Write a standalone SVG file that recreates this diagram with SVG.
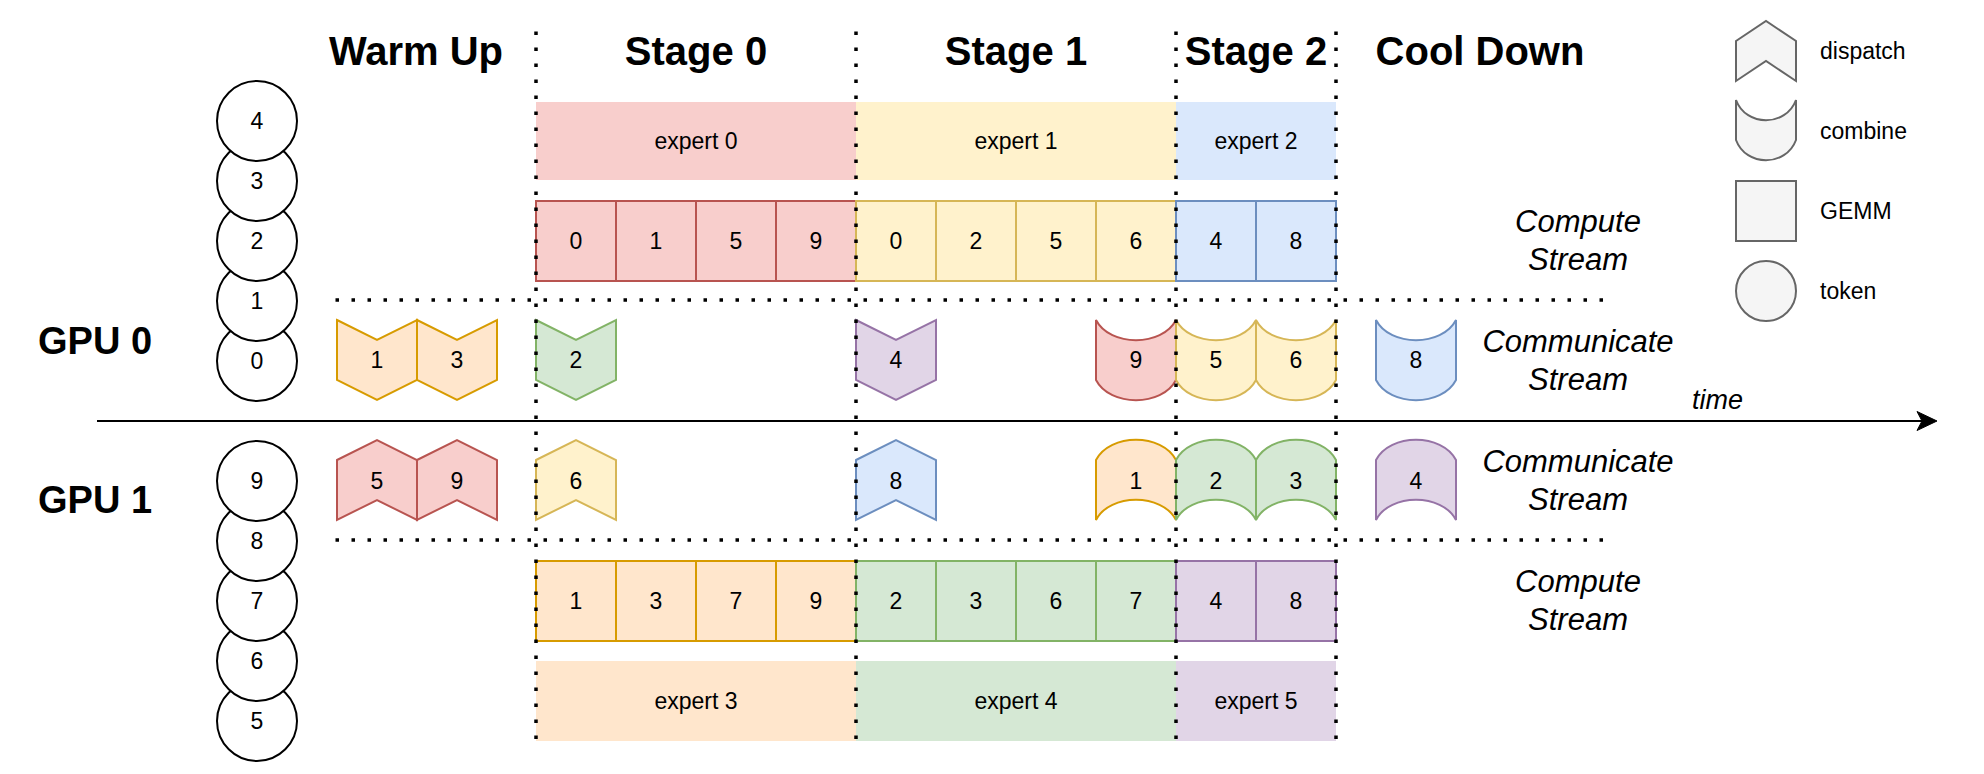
<svg xmlns="http://www.w3.org/2000/svg" width="1984" height="774" viewBox="0 0 1984 774">
<style>
  text { font-family: "Liberation Sans", Arial, Helvetica, sans-serif; fill: #000; }
  .head { font-size: 40px; font-weight: bold; text-anchor: middle; }
  .gpu { font-size: 38px; font-weight: bold; }
  .num { font-size: 23px; text-anchor: middle; }
  .exp { font-size: 23px; text-anchor: middle; }
  .leg { font-size: 23px; }
  .it { font-size: 31px; font-style: italic; text-anchor: middle; }
  .tok { fill: #fff; stroke: #000; stroke-width: 2; }
  .red { fill: #f8cecc; stroke: #b85450; stroke-width: 2; }
  .yel { fill: #fff2cc; stroke: #d6b656; stroke-width: 2; }
  .blu { fill: #dae8fc; stroke: #6c8ebf; stroke-width: 2; }
  .ora { fill: #ffe6cc; stroke: #d79b00; stroke-width: 2; }
  .grn { fill: #d5e8d4; stroke: #82b366; stroke-width: 2; }
  .pur { fill: #e1d5e7; stroke: #9673a6; stroke-width: 2; }
  .gry { fill: #f5f5f5; stroke: #666666; stroke-width: 2; }
  .dot { stroke: #000; stroke-width: 3.5; stroke-dasharray: 3.5 12.5; fill: none; }
</style>
<defs>
  <polygon id="dispDown" points="0,0 40,20 80,0 80,60 40,80 0,60"/>
  <polygon id="dispUp" points="0,20 40,0 80,20 80,80 40,60 0,80"/>
  <path id="combDown" d="M0,0 C14,27 66,27 80,0 L80,60 C66,87 14,87 0,60 Z"/>
  <path id="combUp" d="M0,20 C14,-7 66,-7 80,20 L80,80 C66,53 14,53 0,80 Z"/>
</defs>
<rect width="1984" height="774" fill="#fff"/>

<g id="headings">
  <text class="head" x="416" y="65">Warm Up</text>
  <text class="head" x="696" y="65">Stage 0</text>
  <text class="head" x="1016" y="65">Stage 1</text>
  <text class="head" x="1256" y="65">Stage 2</text>
  <text class="head" x="1480" y="65">Cool Down</text>
</g>

<g id="gpu-labels">
  <text class="gpu" x="38" y="354">GPU 0</text>
  <text class="gpu" x="38" y="513">GPU 1</text>
</g>

<g id="tokens-gpu0">
  <g id="tok0-0"><circle class="tok" cx="257" cy="361" r="40"/><text class="num" x="257" y="369">0</text></g>
  <g id="tok0-1"><circle class="tok" cx="257" cy="301" r="40"/><text class="num" x="257" y="309">1</text></g>
  <g id="tok0-2"><circle class="tok" cx="257" cy="241" r="40"/><text class="num" x="257" y="249">2</text></g>
  <g id="tok0-3"><circle class="tok" cx="257" cy="181" r="40"/><text class="num" x="257" y="189">3</text></g>
  <g id="tok0-4"><circle class="tok" cx="257" cy="121" r="40"/><text class="num" x="257" y="129">4</text></g>
</g>
<g id="tokens-gpu1">
  <g id="tok1-5"><circle class="tok" cx="257" cy="721" r="40"/><text class="num" x="257" y="729">5</text></g>
  <g id="tok1-6"><circle class="tok" cx="257" cy="661" r="40"/><text class="num" x="257" y="669">6</text></g>
  <g id="tok1-7"><circle class="tok" cx="257" cy="601" r="40"/><text class="num" x="257" y="609">7</text></g>
  <g id="tok1-8"><circle class="tok" cx="257" cy="541" r="40"/><text class="num" x="257" y="549">8</text></g>
  <g id="tok1-9"><circle class="tok" cx="257" cy="481" r="40"/><text class="num" x="257" y="489">9</text></g>
</g>

<g id="experts-gpu0">
  <g id="expert0"><rect x="536" y="102" width="320" height="78" fill="#f8cecc"/><text class="exp" x="696" y="149">expert 0</text></g>
  <g id="expert1"><rect x="856" y="102" width="320" height="78" fill="#fff2cc"/><text class="exp" x="1016" y="149">expert 1</text></g>
  <g id="expert2"><rect x="1176" y="102" width="160" height="78" fill="#dae8fc"/><text class="exp" x="1256" y="149">expert 2</text></g>
</g>

<g id="gemm-gpu0">
  <g id="g0-s0-0"><rect class="red" x="536" y="201" width="80" height="80"/><text class="num" x="576" y="249">0</text></g>
  <g id="g0-s0-1"><rect class="red" x="616" y="201" width="80" height="80"/><text class="num" x="656" y="249">1</text></g>
  <g id="g0-s0-5"><rect class="red" x="696" y="201" width="80" height="80"/><text class="num" x="736" y="249">5</text></g>
  <g id="g0-s0-9"><rect class="red" x="776" y="201" width="80" height="80"/><text class="num" x="816" y="249">9</text></g>
  <g id="g0-s1-0"><rect class="yel" x="856" y="201" width="80" height="80"/><text class="num" x="896" y="249">0</text></g>
  <g id="g0-s1-2"><rect class="yel" x="936" y="201" width="80" height="80"/><text class="num" x="976" y="249">2</text></g>
  <g id="g0-s1-5"><rect class="yel" x="1016" y="201" width="80" height="80"/><text class="num" x="1056" y="249">5</text></g>
  <g id="g0-s1-6"><rect class="yel" x="1096" y="201" width="80" height="80"/><text class="num" x="1136" y="249">6</text></g>
  <g id="g0-s2-4"><rect class="blu" x="1176" y="201" width="80" height="80"/><text class="num" x="1216" y="249">4</text></g>
  <g id="g0-s2-8"><rect class="blu" x="1256" y="201" width="80" height="80"/><text class="num" x="1296" y="249">8</text></g>
</g>

<g id="comm-gpu0">
  <g id="c0-d1"><use href="#dispDown" class="ora" x="337" y="320"/><text class="num" x="377" y="368">1</text></g>
  <g id="c0-d3"><use href="#dispDown" class="ora" x="417" y="320"/><text class="num" x="457" y="368">3</text></g>
  <g id="c0-d2"><use href="#dispDown" class="grn" x="536" y="320"/><text class="num" x="576" y="368">2</text></g>
  <g id="c0-d4"><use href="#dispDown" class="pur" x="856" y="320"/><text class="num" x="896" y="368">4</text></g>
  <g id="c0-c9"><use href="#combDown" class="red" x="1096" y="320"/><text class="num" x="1136" y="368">9</text></g>
  <g id="c0-c5"><use href="#combDown" class="yel" x="1176" y="320"/><text class="num" x="1216" y="368">5</text></g>
  <g id="c0-c6"><use href="#combDown" class="yel" x="1256" y="320"/><text class="num" x="1296" y="368">6</text></g>
  <g id="c0-c8"><use href="#combDown" class="blu" x="1376" y="320"/><text class="num" x="1416" y="368">8</text></g>
</g>

<g id="comm-gpu1">
  <g id="c1-d5"><use href="#dispUp" class="red" x="337" y="440"/><text class="num" x="377" y="489">5</text></g>
  <g id="c1-d9"><use href="#dispUp" class="red" x="417" y="440"/><text class="num" x="457" y="489">9</text></g>
  <g id="c1-d6"><use href="#dispUp" class="yel" x="536" y="440"/><text class="num" x="576" y="489">6</text></g>
  <g id="c1-d8"><use href="#dispUp" class="blu" x="856" y="440"/><text class="num" x="896" y="489">8</text></g>
  <g id="c1-c1"><use href="#combUp" class="ora" x="1096" y="440"/><text class="num" x="1136" y="489">1</text></g>
  <g id="c1-c2"><use href="#combUp" class="grn" x="1176" y="440"/><text class="num" x="1216" y="489">2</text></g>
  <g id="c1-c3"><use href="#combUp" class="grn" x="1256" y="440"/><text class="num" x="1296" y="489">3</text></g>
  <g id="c1-c4"><use href="#combUp" class="pur" x="1376" y="440"/><text class="num" x="1416" y="489">4</text></g>
</g>

<g id="gemm-gpu1">
  <g id="g1-s0-1"><rect class="ora" x="536" y="561" width="80" height="80"/><text class="num" x="576" y="609">1</text></g>
  <g id="g1-s0-3"><rect class="ora" x="616" y="561" width="80" height="80"/><text class="num" x="656" y="609">3</text></g>
  <g id="g1-s0-7"><rect class="ora" x="696" y="561" width="80" height="80"/><text class="num" x="736" y="609">7</text></g>
  <g id="g1-s0-9"><rect class="ora" x="776" y="561" width="80" height="80"/><text class="num" x="816" y="609">9</text></g>
  <g id="g1-s1-2"><rect class="grn" x="856" y="561" width="80" height="80"/><text class="num" x="896" y="609">2</text></g>
  <g id="g1-s1-3"><rect class="grn" x="936" y="561" width="80" height="80"/><text class="num" x="976" y="609">3</text></g>
  <g id="g1-s1-6"><rect class="grn" x="1016" y="561" width="80" height="80"/><text class="num" x="1056" y="609">6</text></g>
  <g id="g1-s1-7"><rect class="grn" x="1096" y="561" width="80" height="80"/><text class="num" x="1136" y="609">7</text></g>
  <g id="g1-s2-4"><rect class="pur" x="1176" y="561" width="80" height="80"/><text class="num" x="1216" y="609">4</text></g>
  <g id="g1-s2-8"><rect class="pur" x="1256" y="561" width="80" height="80"/><text class="num" x="1296" y="609">8</text></g>
</g>

<g id="experts-gpu1">
  <g id="expert3"><rect x="536" y="661" width="320" height="80" fill="#ffe6cc"/><text class="exp" x="696" y="709">expert 3</text></g>
  <g id="expert4"><rect x="856" y="661" width="320" height="80" fill="#d5e8d4"/><text class="exp" x="1016" y="709">expert 4</text></g>
  <g id="expert5"><rect x="1176" y="661" width="160" height="80" fill="#e1d5e7"/><text class="exp" x="1256" y="709">expert 5</text></g>
</g>

<g id="stream-labels">
  <text class="it" x="1578" y="232">Compute</text>
  <text class="it" x="1578" y="270">Stream</text>
  <text class="it" x="1578" y="352">Communicate</text>
  <text class="it" x="1578" y="390">Stream</text>
  <text class="it" x="1578" y="472">Communicate</text>
  <text class="it" x="1578" y="510">Stream</text>
  <text class="it" x="1578" y="592">Compute</text>
  <text class="it" x="1578" y="630">Stream</text>
  <text x="1692" y="409" style="font-size:27px;font-style:italic">time</text>
</g>

<g id="legend">
  <g id="leg-dispatch"><polygon class="gry" points="1736,41 1766,21 1796,41 1796,81 1766,61 1736,81"/><text class="leg" x="1820" y="59">dispatch</text></g>
  <g id="leg-combine"><path class="gry" d="M1736,100 C1746,127 1786,127 1796,100 L1796,140 C1786,167 1746,167 1736,140 Z"/><text class="leg" x="1820" y="139">combine</text></g>
  <g id="leg-gemm"><rect class="gry" x="1736" y="181" width="60" height="60"/><text class="leg" x="1820" y="219">GEMM</text></g>
  <g id="leg-token"><circle class="gry" cx="1766" cy="291" r="30"/><text class="leg" x="1820" y="299">token</text></g>
</g>

<g id="connectors">
  <line x1="97" y1="421" x2="1924" y2="421" stroke="#000" stroke-width="2.2"/>
  <path d="M1937,421 L1917,411.5 L1922,421 L1917,430.5 Z" fill="#000" stroke="#000" stroke-width="1"/>
  <line class="dot" x1="335.5" y1="300" x2="1606" y2="300"/>
  <line class="dot" x1="335.5" y1="540" x2="1606" y2="540"/>
  <line class="dot" x1="536" y1="31.5" x2="536" y2="742"/>
  <line class="dot" x1="856" y1="31.5" x2="856" y2="742"/>
  <line class="dot" x1="1176" y1="31.5" x2="1176" y2="742"/>
  <line class="dot" x1="1336" y1="31.5" x2="1336" y2="742"/>
</g>
</svg>
